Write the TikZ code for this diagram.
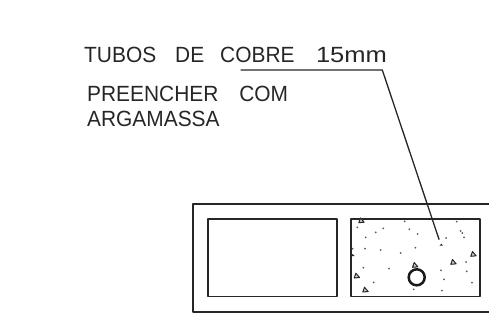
\documentclass[tikz,border=0pt]{standalone}
\usepackage{fontspec}
\setmainfont{Liberation Sans}
\newfontfamily\notamedia[FakeStretch=0.95]{Liberation Sans}
\newfontfamily\notalarga[FakeStretch=1.16]{Liberation Sans}
\tikzset{
	parede/.style={line width=1.7pt, draw=black!85},
	nota/.style={anchor=base west, inner sep=0pt, text=black!85, font=\fontsize{22}{22}\selectfont},
	ponto/.style={fill=black!65, draw=none},
	pedra/.style={draw=black!85, line width=1pt, fill=black!20, line join=round}
}
\begin{document}
\begin{tikzpicture}[x=1pt, y=-1pt, line join=round, line cap=round]
	\useasboundingbox (0,0) rectangle (489,322);
	% Contorno externo, cortado na margem direita
	\draw[parede] (489,203.7) -- (192.7,203.7) -- (192.7,312) -- (489,312);
	% Os dois tubos quadrados
	\draw[parede] (208.3,218.7) rectangle (336.7,296.5);
	\draw[parede] (351.3,218.7) rectangle (480,296.5);
	% Pontos da argamassa
	\foreach \px/\py in {357.3/227.3, 365.7/237.3, 375.7/232.3, 383.3/228.3, 404.7/221.3, 409.3/229.3,
		417.7/234, 456.7/221.7, 460.7/231, 462.3/233, 464/237.3, 446/238, 365/248.7, 380.7/250,
		400.7/253, 415.3/247.7, 352.7/248.7, 363.3/267.7, 389/268.7, 373.7/282.3, 413.7/289.3,
		441/270.3, 444/279.3, 442/290.7, 466/262, 466.7/271.3, 472/282.7}
		\fill[ponto] (\px,\py) circle (1);
	% Pedras da argamassa
	\foreach \px/\py in {361.3/220.7, 473.3/254.3, 453.3/262.3, 415/265.3, 356.7/276, 365.3/290}
		\draw[pedra] (\px-2.5,\py+2) -- (\px-0.8,\py-2.8) -- (\px+2.8,\py+1.5) -- cycle;
	\foreach \px/\py in {441.3/244.7, 352.7/255}
		\fill[black!85] (\px-1.8,\py+1) -- (\px,\py-1) -- (\px+1.8,\py+1) -- cycle;
	% Tubo de cobre
	\draw[line width=2.5pt, black!90] (416.7,277.3) circle (8);
	% Linha de chamada
	\coordinate (L1) at (241,70);
	\coordinate (L2) at (382.3,70);
	\coordinate (L3) at (439,239.3);
	\draw[line width=1.3pt, black!85] (L1) -- (L2) -- (L3);
	% Textos
	\node[nota] (tubos) at (84,62) {\notamedia TUBOS\hspace{19pt}DE\hspace{16pt}COBRE\hspace{21.5pt}\notalarga 15mm};
	\node[nota] (preencher) at (87,101) {\notamedia PREENCHER\hspace{21pt}COM};
	\node[nota] (argamassa) at (87,126) {\notamedia ARGAMASSA};
\end{tikzpicture}
\end{document}
